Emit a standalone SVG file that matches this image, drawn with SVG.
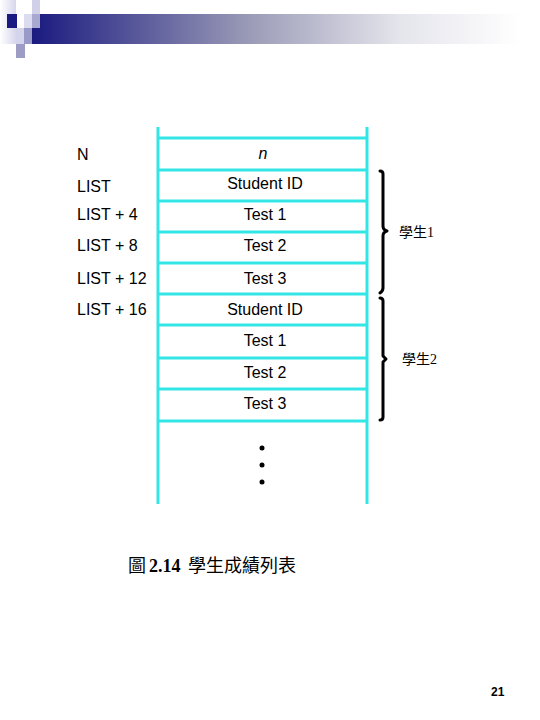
<svg xmlns="http://www.w3.org/2000/svg" width="540" height="720" viewBox="0 0 540 720">
<defs>
<linearGradient id="bar" x1="0" y1="0" x2="1" y2="0">
<stop offset="0" stop-color="#1a1a80"/>
<stop offset="0.45" stop-color="#9c9cb8"/>
<stop offset="0.75" stop-color="#e4e4ec"/>
<stop offset="1" stop-color="#ffffff"/>
</linearGradient>
<linearGradient id="side" x1="0" y1="0" x2="1" y2="0">
<stop offset="0" stop-color="#ffffff"/>
<stop offset="1" stop-color="#d6d6ec"/>
</linearGradient>
</defs>
<style>
.cy{stroke:#33e6e6;stroke-width:3;fill:none}
.br{stroke:#000;stroke-width:3;fill:none;stroke-linecap:round;stroke-linejoin:round}
.lbl{font-family:"Liberation Sans",Arial,sans-serif;font-size:16px;fill:#000}
.cell{font-family:"Liberation Sans",Arial,sans-serif;font-size:16px;fill:#000;text-anchor:middle}
.cjk{font-family:"Liberation Serif","Noto Sans CJK TC",serif;font-size:14px;fill:#000}
.cap{font-family:"Liberation Serif","Noto Sans CJK TC",serif;font-size:18px;fill:#000}
</style>
<rect width="540" height="720" fill="#fff"/>
<g id="header">
<rect x="0" y="0" width="16" height="44" fill="url(#side)"/>
<rect x="32" y="14" width="488" height="30" fill="url(#bar)"/>
<rect x="32" y="0" width="8" height="14" fill="#d0d0e8"/>
<rect x="7" y="14" width="10" height="14" fill="#1a1a80"/>
<rect x="24" y="14" width="8" height="14" fill="#dcdcf0"/>
<rect x="32" y="14" width="8" height="14" fill="#a8a8d0"/>
<rect x="16" y="28" width="8" height="16" fill="#d4d4ec"/>
<rect x="24" y="28" width="8" height="16" fill="#9a9ac8"/>
<rect x="16" y="44" width="9" height="14" fill="#9c9cc4"/>
</g>
<g id="connectors">
<line class="cy" x1="158" y1="127" x2="158" y2="504"/>
<line class="cy" x1="367" y1="127" x2="367" y2="504"/>
<line class="cy" x1="158" y1="138" x2="367" y2="138"/>
<line class="cy" x1="158" y1="170" x2="367" y2="170"/>
<line class="cy" x1="158" y1="201" x2="367" y2="201"/>
<line class="cy" x1="158" y1="232" x2="367" y2="232"/>
<line class="cy" x1="158" y1="263" x2="367" y2="263"/>
<line class="cy" x1="158" y1="294" x2="367" y2="294"/>
<line class="cy" x1="158" y1="325" x2="367" y2="325"/>
<line class="cy" x1="158" y1="358" x2="367" y2="358"/>
<line class="cy" x1="158" y1="389" x2="367" y2="389"/>
<line class="cy" x1="158" y1="421" x2="367" y2="421"/>
<path class="br" d="M380 171 Q383 171 383 174 L383 226 Q383 230 387 231 Q383 232 383 236 L383 288 Q383 291 380 293"/>
<path class="br" d="M380 298 Q383 298 383 301 L383 356 L386 359 L383 362 L383 417 Q383 420 380 420"/>
</g>
<g id="labels-left">
<text class="lbl" x="77" y="160">N</text>
<text class="lbl" x="77" y="192">LIST</text>
<text class="lbl" x="77" y="220">LIST + 4</text>
<text class="lbl" x="77" y="251">LIST + 8</text>
<text class="lbl" x="77" y="284">LIST + 12</text>
<text class="lbl" x="77" y="315">LIST + 16</text>
</g>
<g id="cells">
<text class="cell" x="263" y="159" font-style="italic">n</text>
<text class="cell" x="265" y="189">Student ID</text>
<text class="cell" x="265" y="220">Test 1</text>
<text class="cell" x="265" y="251">Test 2</text>
<text class="cell" x="265" y="284">Test 3</text>
<text class="cell" x="265" y="315">Student ID</text>
<text class="cell" x="265" y="346">Test 1</text>
<text class="cell" x="265" y="378">Test 2</text>
<text class="cell" x="265" y="409">Test 3</text>
</g>
<g id="dots" fill="#000">
<circle cx="262" cy="448" r="2.5"/>
<circle cx="262" cy="465" r="2.5"/>
<circle cx="262" cy="482" r="2.5"/>
</g>
<g id="brace-labels">
<text class="cjk" x="399" y="237">學生1</text>
<text class="cjk" x="402" y="364">學生2</text>
</g>
<g id="caption">
<text class="cap" x="128" y="572">圖<tspan x="149" font-weight="bold">2.14</tspan><tspan x="188">學生成績列表</tspan></text>
</g>
<text font-family="'Liberation Sans',Arial,sans-serif" font-size="12" font-weight="bold" x="491" y="696">21</text>
</svg>
